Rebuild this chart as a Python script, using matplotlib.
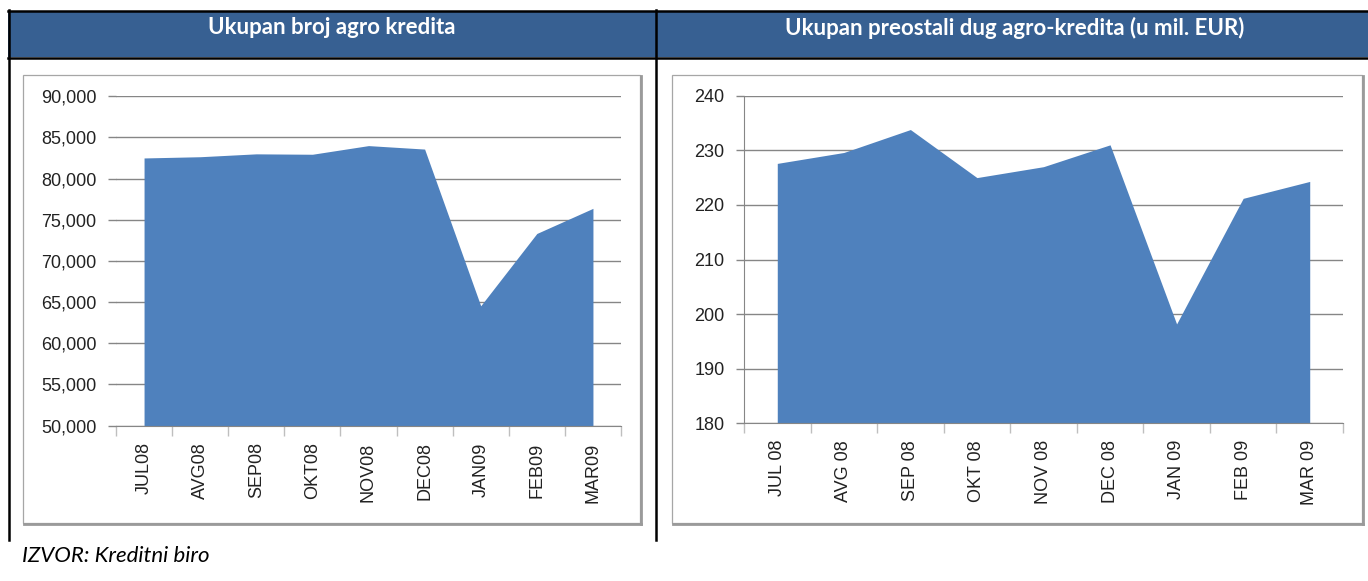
import matplotlib.pyplot as plt
from matplotlib.patches import Rectangle
from matplotlib.lines import Line2D

months = ['JUL08', 'AVG08', 'SEP08', 'OKT08', 'NOV08', 'DEC08', 'JAN09', 'FEB09', 'MAR09']
months_right = ['JUL 08', 'AVG 08', 'SEP 08', 'OKT 08', 'NOV 08', 'DEC 08', 'JAN 09', 'FEB 09', 'MAR 09']
broj_kredita = [82500, 82650, 83000, 82950, 84000, 83580, 64550, 73330, 76380]
preostali_dug = [227.6, 229.6, 233.8, 225.0, 227.0, 231.0, 198.2, 221.2, 224.3]

left_ticks = [50000, 55000, 60000, 65000, 70000, 75000, 80000, 85000, 90000]
right_ticks = [180, 190, 200, 210, 220, 230, 240]

W, H = 1368, 581
BLUE = '#4f81bd'
HEAD = '#376092'
GRID = '#868686'

fig = plt.figure(figsize=(W / 100, H / 100), dpi=100)


def box(x0, y0, x1, y1):
    # pixel box (top-left origin) -> figure fraction rect
    return [x0 / W, 1 - y1 / H, (x1 - x0) / W, (y1 - y0) / H]


def fx(x):
    return x / W


def fy(y):
    return 1 - y / H


# header band
fig.patches.append(Rectangle((fx(8), fy(57)), fx(W) - fx(8), fy(11) - fy(57),
                             transform=fig.transFigure, facecolor=HEAD, edgecolor='none'))
for seg in [((8, W), (10.5, 10.5)), ((8, W), (57.5, 57.5)),
            ((8.5, 8.5), (10, 540)), ((656, 656), (10, 540))]:
    fig.lines.append(Line2D([fx(seg[0][0]), fx(seg[0][1])], [fy(seg[1][0]), fy(seg[1][1])],
                            transform=fig.transFigure, color='black', lw=1.8))

fig.text(fx(332), fy(28), 'Ukupan broj agro kredita', color='white', fontsize=16,
         fontweight='bold', family='Lato', ha='center', va='center')
fig.text(fx(1015), fy(28), 'Ukupan preostali dug agro-kredita (u mil. EUR)', color='white',
         fontsize=16, fontweight='bold', family='Lato', ha='center', va='center')

# chart frames with a light shadow
for x0, x1 in [(23, 640), (672, 1362)]:
    fig.lines.append(Line2D([fx(x1 + 1), fx(x1 + 1)], [fy(76), fy(524)],
                            transform=fig.transFigure, color='#9a9a9a', lw=2))
    fig.lines.append(Line2D([fx(x0 + 1), fx(x1 + 1)], [fy(523.5), fy(523.5)],
                            transform=fig.transFigure, color='#9a9a9a', lw=2))
    fig.patches.append(Rectangle((fx(x0), fy(523)), fx(x1) - fx(x0), fy(75) - fy(523),
                                 transform=fig.transFigure, facecolor='none',
                                 edgecolor='#a6a6a6', lw=0.9))

fig.text(fx(22), fy(556), 'IZVOR: Kreditni biro', fontsize=16, style='italic',
         family='Lato', ha='left', va='center')


def area_chart(rect, values, labels, ticks, fmt, show_spine):
    ax = fig.add_axes(rect)
    x = list(range(len(values)))
    ax.fill_between(x, values, ticks[0], color=BLUE, lw=0, zorder=2)
    ax.set_xlim(-0.5, len(values) - 0.5)
    ax.set_ylim(ticks[0], ticks[-1])
    ax.set_yticks(ticks)
    ax.set_yticklabels([fmt(t) for t in ticks], family='Liberation Sans', fontsize=13,
                       color='#222222')
    ax.yaxis.grid(True, color=GRID, lw=1, zorder=0)
    ax.set_axisbelow(True)
    ax.set_xticks([i + 0.5 for i in range(-1, len(values))], minor=False)
    ax.set_xticklabels([])
    ax.set_xticks(x, minor=True)
    ax.set_xticklabels(labels, minor=True, rotation=90, family='Liberation Sans',
                       fontsize=13, va='top', color='#222222')
    ax.tick_params(axis='x', which='major', length=7, color='#bfbfbf', width=1)
    ax.tick_params(axis='x', which='minor', length=0, pad=12)
    ax.tick_params(axis='y', length=6, color=GRID, width=1, pad=8)
    for s in ['top', 'right']:
        ax.spines[s].set_visible(False)
    ax.spines['left'].set_visible(show_spine)
    ax.spines['left'].set_color(GRID)
    ax.spines['bottom'].set_color(GRID)
    ax.patch.set_alpha(0)
    return ax


area_chart(box(116, 96.2, 621, 425.6), broj_kredita, months, left_ticks,
           lambda t: f'{t:,}', False)
area_chart(box(744, 95.7, 1343, 423.3), preostali_dug, months_right, right_ticks,
           lambda t: f'{t}', True)

fig.savefig('out.png', dpi=100)
